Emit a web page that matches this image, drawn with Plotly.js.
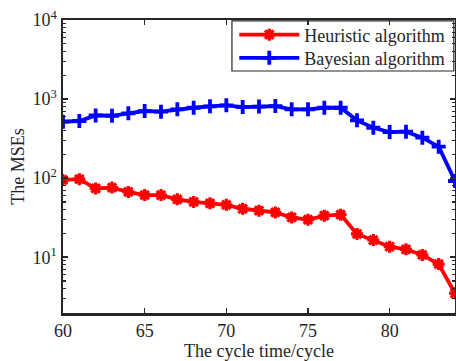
<!DOCTYPE html>
<html>
<head>
<meta charset="utf-8">
<script src="https://cdn.plot.ly/plotly-3.0.1.min.js"></script>
<style>html,body{margin:0;padding:0;background:#fff}#chart{width:456px;height:361px}</style>
</head>
<body>
<div id="chart"></div>
<script>
const cycles = [60,61,62,63,64,65,66,67,68,69,70,71,72,73,74,75,76,77,78,79,80,81,82,83,84];
const heuristic = [95,97,74,76,67,61,61,54,50,48,46,41,38.7,36.8,31.8,29.8,33.5,34.5,19.7,16.5,13.6,12.6,10.7,8.2,3.5];
const bayesian = [518,528,622,615,660,706,692,742,777,809,833,793,804,816,742,742,777,777,538,434,383,387,325,250,92];
const seriesNames = ["Heuristic algorithm","Bayesian algorithm"];
const xTickVals = [60,65,70,75,80];
const yTickVals = [10,100,1000,10000];
const yTickText = ["10<sup>1</sup>","10<sup>2</sup>","10<sup>3</sup>","10<sup>4</sup>"];
const yMinorTicks = [2,3,4,5,6,7,8,9,20,30,40,50,60,70,80,90,200,300,400,500,600,700,800,900,2000,3000,4000,5000,6000,7000,8000,9000];

const font = {family:"Liberation Serif, Times New Roman, serif", color:"#262626"};
const yRange = [Math.log10(1.97), 4];
const traces = [
  {x:cycles, y:heuristic, name:seriesNames[0], type:"scatter", mode:"lines+markers", legend:"legend",
   line:{color:"#ff0000", width:3.8},
   marker:{symbol:"asterisk-open", size:10, color:"#ff0000", line:{color:"#ff0000", width:3.2}}},
  {x:cycles, y:bayesian, name:seriesNames[1], type:"scatter", mode:"lines+markers", legend:"legend2",
   line:{color:"#0000ff", width:3.8},
   marker:{symbol:"cross-thin-open", size:10, color:"#0000ff", line:{color:"#0000ff", width:3.8}}}
];
const legendCommon = {xanchor:"right", yanchor:"middle", x:0.988, bgcolor:"rgba(0,0,0,0)",
  borderwidth:0, font:Object.assign({size:18}, font), itemwidth:60};
const layout = {
  width:456, height:361,
  margin:{l:63, r:1, t:20, b:48},
  paper_bgcolor:"#fff", plot_bgcolor:"#fff",
  font:Object.assign({size:18}, font),
  showlegend:true,
  legend:Object.assign({y:0.949}, legendCommon),
  legend2:Object.assign({y:0.870}, legendCommon),
  shapes:[{type:"rect", xref:"paper", yref:"paper", x0:0.431, x1:0.997, y0:0.826, y1:0.997,
    fillcolor:"#fff", line:{color:"#262626", width:1.2}, layer:"below"}],
  xaxis:{range:[60,84], tickvals:xTickVals, ticks:"inside", ticklen:5, tickwidth:1.5,
    tickcolor:"#262626", showline:true, linecolor:"#262626", linewidth:2.5, mirror:"ticks",
    showgrid:false, zeroline:false, tickfont:Object.assign({size:18}, font),
    title:{text:"The cycle time/cycle", font:Object.assign({size:18}, font), standoff:2}},
  yaxis:{type:"log", range:yRange, tickvals:yTickVals, ticktext:yTickText,
    ticks:"inside", ticklen:5, tickwidth:1.5, tickcolor:"#262626",
    showline:true, linecolor:"#262626", linewidth:2.5, mirror:"ticks",
    showgrid:false, zeroline:false, tickfont:Object.assign({size:18}, font),
    title:{text:"The MSEs", font:Object.assign({size:18}, font), standoff:4}},
  yaxis2:{type:"log", range:yRange, overlaying:"y", side:"left", tickvals:yMinorTicks,
    showticklabels:false, ticks:"inside", ticklen:3, tickwidth:1.2, tickcolor:"#262626",
    showline:false, mirror:"ticks", showgrid:false, zeroline:false}
};
// invisible carrier so yaxis2 is drawn
traces.push({x:[cycles[0]], y:[heuristic[0]], yaxis:"y2", mode:"markers", showlegend:false,
  marker:{opacity:0}, hoverinfo:"skip"});
Plotly.newPlot("chart", traces, layout, {displayModeBar:false, staticPlot:true});
</script>
</body>
</html>
